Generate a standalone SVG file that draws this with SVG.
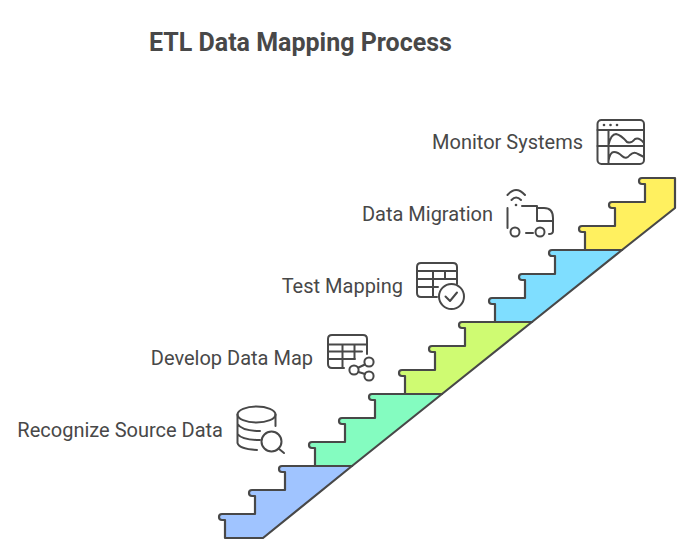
<svg xmlns="http://www.w3.org/2000/svg" width="683" height="549" viewBox="0 0 683 549">
<style>
.s{stroke:#484848;stroke-width:2.200;stroke-linejoin:round;stroke-linecap:round}
.i{fill:none;stroke:#484848;stroke-width:2;stroke-linecap:round;stroke-linejoin:round}
.d{fill:#484848}
text{font-family:Roboto,"Liberation Sans",sans-serif;fill:#484848}
.l{font-size:20px;text-anchor:end}
</style>
<rect width="683" height="549" fill="#fff"/>
<text x="149" y="51" font-size="25" font-weight="700">ETL Data Mapping Process</text>
<g id="step-1">
<path class="s" fill="#a0c4ff" d="M225 538H263L352 466H282Q279 466 279 469Q279 472 282 472H285V490H252Q249 490 249 493Q249 496 252 496H255V514H222Q219 514 219 517Q219 520 222 520H225Z"/>
<text class="l" x="223" y="437">Recognize Source Data</text>
<g class="i"><ellipse cx="256.500" cy="414.500" rx="19" ry="8"/><path d="M237.500 414.500V443Q239 449 257 450M275.500 414.500V426M237.500 424Q242 431 260 431M237.500 434Q242 440 260 440"/><circle cx="271.500" cy="441.500" r="10"/><path d="M278.500 448.500L284 453"/></g>
</g>
<g id="step-2">
<path class="s" fill="#84fcc0" d="M315 466H352L442 394H372Q369 394 369 397Q369 400 372 400H375V418H342Q339 418 339 421Q339 424 342 424H345V442H312Q309 442 309 445Q309 448 312 448H315Z"/>
<text class="l" x="313" y="365">Develop Data Map</text>
<g class="i"><path d="M367 354V339Q367 335 363 335H332Q328 335 328 339V364Q328 368 332 368H344M328 344.500H367M328 351.500H362M328 359H355M342.500 344.500V368M354.500 344.500V359"/><circle cx="369" cy="362" r="4.600"/><circle cx="354" cy="370" r="4.600"/><circle cx="369" cy="376" r="4.600"/><path d="M358.500 367.500L365 364.500M358.500 372L365 374"/></g>
</g>
<g id="step-3">
<path class="s" fill="#cffb72" d="M405 394H442L532 322H462Q459 322 459 325Q459 328 462 328H465V346H432Q429 346 429 349Q429 352 432 352H435V370H402Q399 370 399 373Q399 376 402 376H405Z"/>
<text class="l" x="403" y="293">Test Mapping</text>
<g class="i"><path d="M457 284V267Q457 263 453 263H421Q417 263 417 267V293Q417 297 421 297H437M417 271H457M417 279H457M417 287H438M433 271V297M445 271V279"/><circle cx="451.500" cy="296.500" r="12.500"/><path d="M445.500 296.500L450 301L457 292.500"/></g>
</g>
<g id="step-4">
<path class="s" fill="#7fdeff" d="M495 322H532L622 250H552Q549 250 549 253Q549 256 552 256H555V274H522Q519 274 519 277Q519 280 522 280H525V298H492Q489 298 489 301Q489 304 492 304H495Z"/>
<text class="l" x="493" y="221">Data Migration</text>
<g class="i"><path d="M507.500 195Q516 185 525 195M511.500 200Q516 195 521 200"/><path d="M507.500 208V228M522 206H537V221H553V218Q553 208 544 208H537M553 221V231Q553 234 549 234M526 233H533"/><circle cx="515" cy="232" r="4.500"/><circle cx="540" cy="232" r="4.500"/></g>
<circle class="d" cx="516" cy="205" r="1.300"/>
</g>
<g id="step-5">
<path class="s" fill="#fff05f" d="M585 250H622L675 208V178H642Q639 178 639 181Q639 184 642 184H645V202H612Q609 202 609 205Q609 208 612 208H615V226H582Q579 226 579 229Q579 232 582 232H585Z"/>
<text class="l" x="583" y="149">Monitor Systems</text>
<g class="i"><rect x="597.500" y="120" width="46.500" height="44" rx="4"/><path d="M597.500 130H644M597.500 146H644M608.500 130V164M608.500 145Q611 134 616 134Q621 135 627 142Q631 144 635 139Q639 137 644 143M608.500 161Q610 152 614 152Q618 152 622 156Q626 160 630 155Q634 151 638 154L644 157"/></g>
<circle class="d" cx="604" cy="125" r="1.300"/><circle class="d" cx="610.500" cy="125" r="1.300"/><circle class="d" cx="617" cy="125" r="1.300"/>
</g>
<g id="connectors"></g>
</svg>
